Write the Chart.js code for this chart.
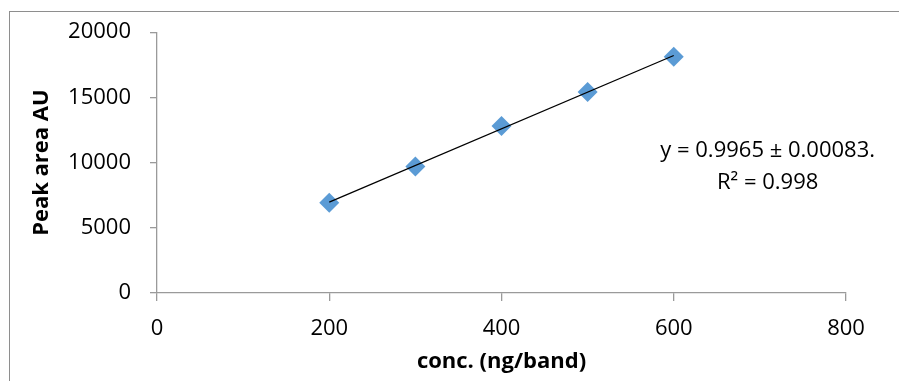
<!DOCTYPE html>
<html>
<head>
<meta charset="utf-8">
<script src="https://cdn.jsdelivr.net/npm/chart.js@4.4.0/dist/chart.umd.min.js"></script>
<style>
  html, body { margin: 0; padding: 0; background: #ffffff; }
  #wrap { position: relative; width: 899px; height: 381px; overflow: hidden; }
  #frame { position: absolute; left: 9px; top: 11px; width: 1000px; height: 1000px;
           border-left: 1.5px solid #8e8e8e; border-top: 1.5px solid #8e8e8e; box-sizing: border-box; }
  canvas { position: absolute; left: 0; top: 0; }
</style>
</head>
<body>
<div id="wrap">
  <div id="frame"></div>
  <canvas id="c" width="899" height="381"></canvas>
</div>
<script>
// ---- data ----
const concentrations = [200, 300, 400, 500, 600];
const peakAreas = [6924, 9695, 12802, 15420, 18115];
const xTickValues = [0, 200, 400, 600, 800];
const yTickValues = [0, 5000, 10000, 15000, 20000];
const xTitle = 'conc. (ng/band)';
const yTitle = 'Peak area AU';
const equationLines = ['y = 0.9965 \u00B1 0.00083.', 'R\u00B2 = 0.998'];
const equationAnchor = { x: 709, y: 10900 }; // data-space anchor of the label

// least-squares trendline over the data (drawn between first and last x)
const n = concentrations.length;
const mx = concentrations.reduce((a, b) => a + b, 0) / n;
const my = peakAreas.reduce((a, b) => a + b, 0) / n;
let sxy = 0, sxx = 0;
for (let i = 0; i < n; i++) {
  sxy += (concentrations[i] - mx) * (peakAreas[i] - my);
  sxx += (concentrations[i] - mx) ** 2;
}
const slope = sxy / sxx;
const intercept = my - slope * mx;
const xFirst = Math.min(...concentrations), xLast = Math.max(...concentrations);
const trendPoints = [
  { x: xFirst, y: intercept + slope * xFirst },
  { x: xLast, y: intercept + slope * xLast }
];
const scatterPoints = concentrations.map((x, i) => ({ x, y: peakAreas[i] }));

const FONT = '"Open Sans", "Liberation Sans", sans-serif';
const AXIS = '#9a9a9a';

const equationPlugin = {
  id: 'equation',
  afterDatasetsDraw(chart) {
    const { ctx, scales } = chart;
    const px = scales.x.getPixelForValue(equationAnchor.x);
    const py = scales.y.getPixelForValue(equationAnchor.y);
    ctx.save();
    ctx.font = '22px ' + FONT;
    ctx.fillStyle = '#000';
    ctx.textAlign = 'center';
    ctx.textBaseline = 'middle';
    equationLines.forEach((t, i) => ctx.fillText(t, px, py + i * 32));
    ctx.restore();
  }
};

new Chart(document.getElementById('c'), {
  type: 'scatter',
  data: {
    datasets: [
      {
        type: 'line',
        label: 'Linear trend',
        data: trendPoints,
        borderColor: '#000000',
        borderWidth: 1.3,
        pointRadius: 0,
        fill: false,
        order: 0
      },
      {
        label: 'Peak area',
        data: scatterPoints,
        pointStyle: 'rectRot',
        pointRadius: 10,
        pointHoverRadius: 10,
        backgroundColor: '#5B9BD5',
        borderColor: '#5B9BD5',
        borderWidth: 0,
        order: 1
      }
    ]
  },
  options: {
    responsive: false,
    animation: false,
    events: [],
    layout: { padding: { left: 10, top: 31, right: 53, bottom: 0 } },
    plugins: { legend: { display: false }, tooltip: { enabled: false } },
    scales: {
      x: {
        type: 'linear',
        min: 0, max: 800,
        afterBuildTicks(s) { s.ticks = xTickValues.map(v => ({ value: v })); },
        afterFit(s) { s.height = 88; },
        grid: { drawOnChartArea: false, drawTicks: true, tickLength: 8, color: AXIS, lineWidth: 1.3 },
        border: { display: true, color: AXIS, width: 1.3 },
        ticks: { color: '#000', font: { family: FONT, size: 22 }, padding: 15, maxRotation: 0,
                 callback: v => String(v) },
        title: { display: true, text: xTitle, color: '#000',
                 font: { family: FONT, size: 22, weight: 'bold' }, padding: { top: 0, bottom: 6 } }
      },
      y: {
        type: 'linear',
        min: 0, max: 20000,
        afterBuildTicks(s) { s.ticks = yTickValues.map(v => ({ value: v })); },
        afterFit(s) { s.width = 147; },
        grid: { drawOnChartArea: false, drawTicks: true, tickLength: 7, color: AXIS, lineWidth: 1.3 },
        border: { display: true, color: AXIS, width: 1.3 },
        ticks: { color: '#000', font: { family: FONT, size: 22 }, padding: 19,
                 callback: v => String(v) },
        title: { display: true, text: yTitle, color: '#000',
                 font: { family: FONT, size: 22, weight: 'bold' }, padding: { top: 19, bottom: 0 } }
      }
    }
  },
  plugins: [equationPlugin]
});
</script>
</body>
</html>
